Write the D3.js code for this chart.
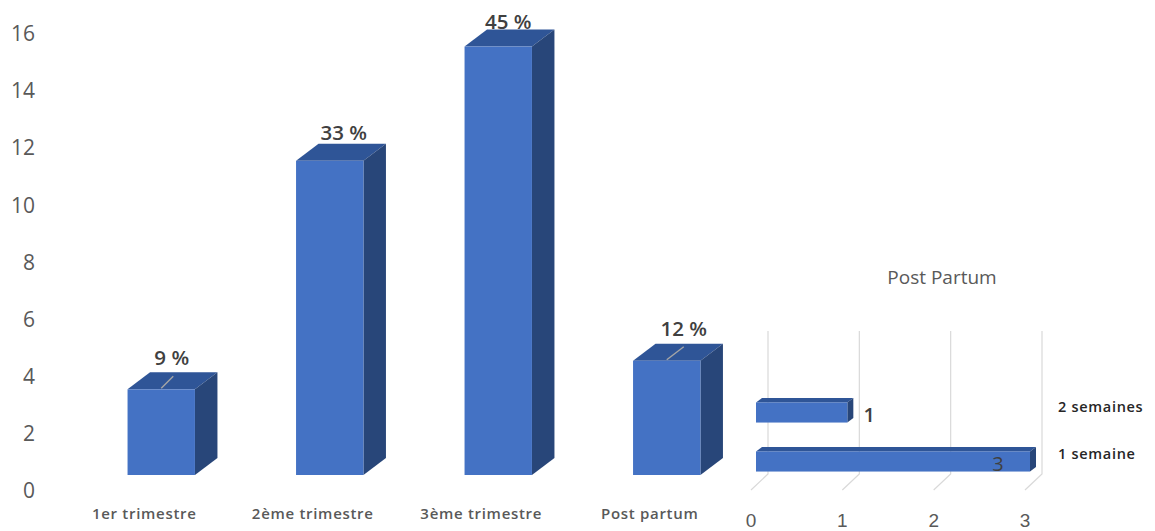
<!DOCTYPE html>
<html lang="fr">
<head>
<meta charset="utf-8">
<script src="https://cdn.jsdelivr.net/npm/d3@7/dist/d3.min.js"></script>
<style>
  html, body { margin: 0; padding: 0; background: #fff; }
  svg { display: block; font-family: "Open Sans", "Noto Sans", sans-serif; }
</style>
</head>
<body>
<svg id="chart" width="1155" height="531"></svg>
<script>
// Cases per period of onset
const categories = ["1er trimestre", "2ème trimestre", "3ème trimestre", "Post partum"];
const counts = [3, 11, 15, 4];
const percentLabels = ["9 %", "33 %", "45 %", "12 %"];
const yTicks = [0, 2, 4, 6, 8, 10, 12, 14, 16];

// Post-partum breakdown
const delays = ["2 semaines", "1 semaine"];
const delayCounts = [1, 3];
const delayTicks = [0, 1, 2, 3];

const FRONT = "#4472c4", TOP = "#2f5597", SIDE = "#284679";
const svg = d3.select("#chart");
const prism = (g, x0, x1, y0, y1, dx, dy) => {
  g.append("polygon").attr("fill", TOP)
    .attr("points", [[x0, y0], [x0 + dx, y0 - dy], [x1 + dx, y0 - dy], [x1, y0]].join(" "));
  g.append("polygon").attr("fill", SIDE)
    .attr("points", [[x1, y0], [x1 + dx, y0 - dy], [x1 + dx, y1 - dy], [x1, y1]].join(" "));
  g.append("rect").attr("fill", FRONT)
    .attr("x", x0).attr("y", y0).attr("width", x1 - x0).attr("height", y1 - y0);
};

/* ---------- main column chart ---------- */
const x = d3.scaleBand().domain(categories).range([77, 751]).paddingInner(0.6).paddingOuter(0.3);
const y = d3.scaleLinear().domain([0, 16]).range([475, 18]);
const depthX = 22.5, depthY = 17;

const yAxis = svg.append("g").attr("transform", "translate(35,16)")
  .call(d3.axisLeft(y).tickValues(yTicks).tickSize(0).tickPadding(0));
yAxis.select(".domain").remove();
yAxis.selectAll("text").attr("fill", "#595959").style("font-size", "21px")
  .style("font-family", "'Open Sans', sans-serif");

categories.forEach((c, i) => {
  prism(svg.append("g"), x(c), x(c) + x.bandwidth(), y(counts[i]), y(0), depthX, depthY);
});

// Leader lines tying the two short bars to their labels
[0, 3].forEach(i => {
  const cx = x(categories[i]) + x.bandwidth() / 2;
  svg.append("line").attr("stroke", "#a6a6a6").attr("stroke-width", 1.4)
    .attr("x1", cx).attr("y1", y(counts[i]) - 1)
    .attr("x2", cx + (i === 0 ? 12 : 17)).attr("y2", y(counts[i]) - (i === 0 ? 13 : 14));
});

// Data labels keep their hand-placed offsets from the bar centre
const labelDx = [10.5, 14, 10, 17];
const labelDy = [24, 21, 18, 25];
svg.append("g").selectAll("text").data(categories).join("text")
  .attr("x", (c, i) => x(c) + x.bandwidth() / 2 + labelDx[i])
  .attr("y", (c, i) => y(counts[i]) - labelDy[i])
  .attr("text-anchor", "middle").attr("fill", "#404040")
  .style("font-size", "20.5px").style("font-weight", 600)
  .text((c, i) => percentLabels[i]);

svg.append("g").selectAll("text").data(categories).join("text")
  .attr("x", c => x(c) + x.bandwidth() / 2 - 17)
  .attr("y", 519).attr("text-anchor", "middle").attr("fill", "#595959")
  .style("font-size", "15px").style("font-weight", 600).style("letter-spacing", "0.7px")
  .text(c => c);

/* ---------- inset bar chart ---------- */
const ix = d3.scaleLinear().domain([0, 3]).range([756, 1030]);
const iy = d3.scaleBand().domain(delays).range([388, 486]).paddingInner(0.59).paddingOuter(0.295);
const wallDx = 12;

svg.append("text").attr("x", 942).attr("y", 284).attr("text-anchor", "middle")
  .attr("fill", "#595959").style("font-size", "19px").text("Post Partum");

const grid = svg.append("g").attr("fill", "none").attr("stroke", "#d9d9d9").attr("stroke-width", 1.2);
delayTicks.forEach(t => {
  const px = ix(t) + wallDx;
  grid.append("polyline").attr("points", [[px, 331], [px, 474], [px - 17, 490]].join(" "));
});

delays.forEach((d, i) => {
  prism(svg.append("g"), ix(0), ix(delayCounts[i]), iy(d), iy(d) + iy.bandwidth(), 6, 4.5);
});

const inAxis = svg.append("g").attr("transform", "translate(-5,0)");
inAxis.selectAll("text").data(delayTicks).join("text")
  .attr("x", t => ix(t)).attr("y", 526.5).attr("text-anchor", "middle")
  .attr("fill", "#595959").style("font-family", "'Liberation Sans', sans-serif")
  .style("font-size", "19px").text(t => t);

svg.append("text").attr("x", ix(delayCounts[0]) + 22).attr("y", iy(delays[0]) + 20)
  .attr("text-anchor", "middle").attr("fill", "#404040")
  .style("font-size", "20px").style("font-weight", 600).text(delayCounts[0]);
svg.append("text").attr("x", ix(delayCounts[1]) - 32).attr("y", iy(delays[1]) + 20)
  .attr("text-anchor", "middle").attr("fill", "#404040")
  .style("font-size", "20px").text(delayCounts[1]);

svg.append("g").selectAll("text").data(delays).join("text")
  .attr("x", 1058).attr("y", (d, i) => [412, 459][i])
  .attr("fill", "#262626").style("font-size", "14.5px").style("font-weight", 600)
  .style("letter-spacing", "0.7px")
  .text(d => d);
</script>
</body>
</html>
